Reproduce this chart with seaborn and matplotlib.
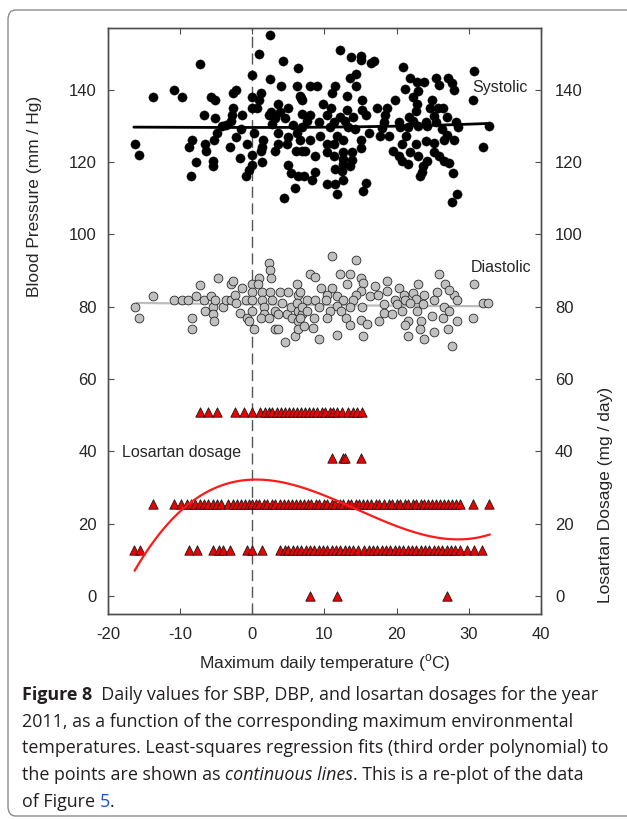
import numpy as np
import pandas as pd
import matplotlib
matplotlib.use("Agg")
import matplotlib.pyplot as plt
import seaborn as sns
from matplotlib.patches import FancyBboxPatch

# ---------------- data ----------------
sys_x = [2.4,1.0,4.3,-7.3,6.4,0.0,2.4,4.0,6.2,-10.9,-9.7,-13.7,-2.3,-2.7,1.2,-5.7,-5.2,-0.1,1.0,3.6,
         5.0,6.8,-2.6,0.0,0.7,2.6,3.8,-6.7,-1.4,-2.8,2.3,-5.1,-3.0,3.1,4.6,-3.7,-4.2,2.7,5.7,-1.6,
         -4.9,0.2,3.5,6.2,-2.3,5.0,-8.4,-5.3,1.5,6.6,-6.6,-0.7,3.6,4.8,-16.3,-8.8,-3.1,1.3,-6.4,1.2,
         3.1,6.0,6.9,-15.7,0.0,-1.7,-7.8,-5.5,1.3,-5.5,0.0,-0.5,5.0,5.4,6.3,-8.5,-0.8,5.9,4.4,
         12.1,13.7,15.0,15.1,16.4,16.9,20.9,30.7,14.4,13.5,21.8,22.8,23.8,25.5,27.1,27.7,28.0,25.8,8.0,8.9,
         11.5,14.3,21.2,23.0,11.0,6.6,6.9,13.1,22.3,15.2,19.8,24.9,30.5,22.8,9.8,10.9,17.3,18.6,24.6,25.7,
         26.4,13.1,15.2,22.7,6.9,8.0,10.3,12.1,14.0,15.8,18.4,21.7,25.1,27.0,7.6,9.2,11.3,12.9,18.2,20.3,
         22.3,24.0,25.5,28.2,32.8,6.9,10.8,13.3,14.2,17.9,20.4,21.6,23.0,24.2,26.3,28.5,9.4,11.8,16.2,17.7,
         18.9,21.3,27.0,8.0,12.6,15.1,24.0,25.1,27.9,26.6,11.3,10.3,20.7,22.7,32.0,15.1,7.3,10.3,12.6,13.8,
         19.5,21.9,25.1,8.7,11.3,20.3,22.9,25.9,12.6,13.8,20.7,21.6,24.2,26.5,12.6,13.6,23.7,27.2,11.5,12.4,
         23.5,7.1,8.7,27.8,8.3,12.6,23.2,10.3,11.5,15.8,15.4,11.8,28.4,27.7]
sys_y = [155.1,149.9,147.9,147,145.9,143.9,143,140.9,140.9,140,138,138,140,139,139,138,137,138,137,135.9,
         134.8,137.6,134.8,134.8,134.8,133.9,133.9,133,133,133,133,132,131.3,132,132,130.2,129.8,130.4,130.2,129.1,
         128,128,128,128,126.9,126.9,126,126,126,126,125,125,125,125,125,124.1,124.1,124.1,123,123,
         123,123,123,121.9,121.9,121,119.9,120.1,119.9,118.9,119.1,117.8,119.1,116.9,116.2,116,116,112.9,109.9,
         151,149,149.2,148.1,147.2,147.9,146.1,145,144.2,143.1,143.1,142.2,142.2,143.1,143.1,141.9,140,141.2,141,141,
         141,141,140.1,139.5,139,138.2,137.2,138.1,138,137.2,137.2,137.2,137.2,136.1,135.9,135,135,135,135,134.8,
         135,134.3,134.3,134.1,133.2,133,133,132.4,132.4,133,133,132.4,132.7,132.4,131.3,131,131,131.3,131,131,
         131.3,131,131,131,130,129.5,129.5,129.5,129.1,129.3,129.5,129.5,129.8,129.8,129,129.5,127.2,127.2,128,127.2,
         127.2,127.2,127.5,126.1,126.1,126.1,125.8,125.2,126,126,124.9,124.9,124.9,124.9,124.1,123.9,123,122.8,122.8,122.8,
         123,122.8,122.8,121.7,121.7,121.7,121.7,121.7,120.8,120.4,120.3,119.5,120.3,120.3,119.3,118.9,118.8,119.8,118,117.5,
         117.3,116.1,117.3,116.9,115,115.1,116,114,114,114.2,112,111.2,111,109]

dia_x = [-16.3,-15.7,-13.7,-10.8,-9.7,-8.9,-7.8,-7.3,-8.4,-8.4,-6.7,-6.6,-5.7,-5.4,-5.5,-5.3,-4.8,-5.1,-4.0,-3.6,
         -2.9,-2.6,-3.0,-2.4,-2.3,-1.7,-1.4,-0.9,-0.7,-0.4,0.0,0.0,0.0,0.0,0.2,1.0,0.8,1.3,1.3,1.6,
         1.6,1.2,2.3,2.5,2.6,2.3,2.5,2.7,3.1,3.6,3.2,3.9,3.6,4.1,4.5,5.0,4.8,5.3,5.5,5.9,
         6.2,6.3,6.2,6.4,6.3,6.3,6.9,
         11.1,14.3,8.0,8.7,12.1,13.5,25.8,30.7,15.0,17.0,18.6,15.4,9.5,11.0,13.1,15.1,20.3,23.0,26.7,18.6,
         6.6,10.4,11.7,14.3,16.3,17.4,21.0,22.3,23.8,25.6,28.0,27.2,7.6,8.7,10.2,12.6,14.0,19.7,21.2,22.7,
         25.1,28.4,6.9,9.2,11.7,13.6,15.2,18.2,20.0,21.9,23.7,26.5,31.9,32.7,7.6,10.8,12.3,18.3,20.7,22.8,
         24.9,27.3,6.6,8.6,10.3,13.0,15.1,15.9,17.6,19.3,21.6,23.3,26.4,28.3,30.5,8.4,11.8,13.6,15.4,21.2,
         23.2,25.1,27.1,9.2,21.6,23.8,27.7,7.2]
dia_y = [79.9,76.9,83,81.9,81.9,81.9,83,86,76.9,73.9,81.9,78.9,83,80,78,76,88,81.9,79.9,81.9,
         86.1,87.1,81.9,83.2,81,78.2,85,81.9,76.9,76,86.1,84.1,81.9,78.9,73.9,88,86.1,84.1,81.9,79.9,
         78,76.9,92,90,88,76.9,84.1,81.9,73.9,73.9,78.9,84.1,78,81,70.3,84.1,78,80,76.9,71.9,
         86.1,83.2,81,78.9,76,73.9,78,
         94.1,92.9,89.1,88.2,89.1,89.1,89.1,86.1,88,85.6,87.1,86.5,85,85,86.1,84.3,85,86.1,86.1,84.3,
         83.9,83.2,82.8,83.2,83,83.2,83.2,83.7,83.2,83.9,83.2,84.6,81.9,81.9,81.9,81.9,81.9,81.9,81.7,82.1,
         81.9,81.9,80,79.9,80.2,80,80,80.8,80.8,81,80.8,80,81,81,78.9,78.8,78.8,78.2,78.9,78.8,
         77.5,78.8,76.9,76.9,76.9,76.9,76.2,75.1,76,77.8,76,76,76.7,76,76.9,74.1,72.1,74.9,71.9,74.9,
         73.9,73,73.9,71,71.9,71,69,74.7]

# Losartan dosage levels and the temperatures at which each level was taken
dose_levels = [50.8, 38.1, 25.4, 12.7, 0.0]
dose50_x = [-7.2,-6.1,-4.9,-2.4,-1.2,0.0,1.1,1.7,2.3,2.8,3.4,4.0,4.5,5.1,5.6,6.2,6.8,7.3,7.9,8.4,
            9.0,9.6,10.1,10.7,11.2,11.8,12.4,13.3,13.9,14.5,15.2]
dose38_x = [11.0,12.5,12.8,15.1]
dose25_x = [-13.8,-10.9,-9.8,-9.1,-8.5,-7.9,-7.3,-6.7,-6.1,-5.5,-4.9,-4.3,-3.3,-2.7,-2.1,-1.6,-1.0,-0.5,0.0,0.5,
            1.0,1.6,2.1,2.7,3.2,3.8,4.4,4.9,5.5,6.0,6.6,7.1,7.7,8.2,8.8,9.3,9.9,10.4,11.0,11.5,
            12.1,12.6,13.2,13.7,14.3,14.8,15.4,15.9,16.5,17.1,17.6,18.3,18.9,19.4,20.0,20.5,21.1,21.6,22.2,22.7,
            23.3,23.8,24.4,24.9,25.5,26.0,26.6,27.1,27.7,28.2,28.8,30.6,32.8]
dose12_x = [-16.4,-15.6,-8.7,-7.7,-5.4,-4.6,-4.0,-3.1,-0.7,0.0,1.3,3.9,4.5,5.0,5.6,6.2,6.8,7.4,8.0,8.6,
            9.2,9.8,10.4,11.0,11.6,12.2,12.8,13.4,14.0,14.6,15.5,16.1,16.7,17.3,17.9,18.5,19.1,19.7,20.3,20.9,
            21.5,22.1,22.7,23.3,23.9,24.5,25.1,25.7,26.3,26.9,27.5,28.1,28.7,29.8,30.7,31.8]
dose0_x = [8.0,11.8,27.0]

# Regression curves (sampled from the reference's fitted lines)
sys_fit_x = [-16.4, 0.0, 15.0, 25.0, 32.5]
sys_fit_y = [129.6, 129.5, 129.7, 130.1, 130.6]
dia_fit_x = [-16.0, 0.0, 15.0, 32.0]
dia_fit_y = [81.0, 80.6, 80.3, 80.1]
los_fit_x = [-16.3, -13.7, -10.4, -7.2, -2.6, 0.65, 4.8, 9.4, 11.3, 15.9, 20.5, 25.1, 28.8, 32.9]
los_fit_y = [6.4, 14.6, 23.8, 28.4, 31.2, 31.7, 30.7, 27.9, 26.6, 22.9, 19.2, 16.6, 15.8, 16.6]

x_ticks = [-20, -10, 0, 10, 20, 30, 40]
y_ticks = [0, 20, 40, 60, 80, 100, 120, 140]

assert len(sys_x) == len(sys_y), (len(sys_x), len(sys_y))
assert len(dia_x) == len(dia_y), (len(dia_x), len(dia_y))

# ---------------- tables ----------------
sys_df = pd.DataFrame({"temp": sys_x, "bp": sys_y})
dia_df = pd.DataFrame({"temp": dia_x, "bp": dia_y})
dose_df = pd.concat([
    pd.DataFrame({"temp": xs, "dose": [lvl] * len(xs)})
    for lvl, xs in zip(dose_levels, [dose50_x, dose38_x, dose25_x, dose12_x, dose0_x])
], ignore_index=True)

def cubic_curve(xs, ys):
    c = np.polyfit(xs, ys, 3)
    xx = np.linspace(min(xs), max(xs), 200)
    return pd.DataFrame({"temp": xx, "val": np.polyval(c, xx)})

sys_fit = cubic_curve(sys_fit_x, sys_fit_y)
dia_fit = cubic_curve(dia_fit_x, dia_fit_y)
los_fit = cubic_curve(los_fit_x, los_fit_y)

# ---------------- figure ----------------
sns.set_theme(style="white")
plt.rcParams["font.family"] = ["Liberation Sans", "DejaVu Sans"]
plt.rcParams["mathtext.fontset"] = "custom"
plt.rcParams["mathtext.rm"] = "Liberation Sans"

fig = plt.figure(figsize=(6.27, 8.19), dpi=100)
ax = fig.add_axes([0.172, 0.2503, 0.691, 0.7155])
ax2 = ax.twinx()

ylim = (-5, 157)
xlim = (-20, 40)

# dashed line at 0 C
ax.axvline(0, color="#555555", lw=1.0, ls=(0, (8, 4)), zorder=1)

sns.lineplot(data=sys_fit, x="temp", y="val", ax=ax, color="black", lw=2.0, zorder=2)
sns.scatterplot(data=sys_df, x="temp", y="bp", ax=ax, color="black", s=44,
                edgecolor="black", linewidth=0.3, zorder=3)
sns.lineplot(data=dia_fit, x="temp", y="val", ax=ax, color="#bdbdbd", lw=1.6, zorder=2)
sns.scatterplot(data=dia_df, x="temp", y="bp", ax=ax, color="#c0c0c0", s=40,
                edgecolor="#2a2a2a", linewidth=0.6, zorder=3)

sns.scatterplot(data=dose_df, x="temp", y="dose", ax=ax2, marker="^", color="#ee0000",
                s=46, edgecolor="#1a1a1a", linewidth=0.6, zorder=3)
sns.lineplot(data=los_fit, x="temp", y="val", ax=ax2, color="#ff1a1a", lw=1.6, zorder=4)

for a in (ax, ax2):
    a.set_xlim(*xlim)
    a.set_ylim(*ylim)
    a.set_yticks(y_ticks)
    for s in a.spines.values():
        s.set_color("#4d4d4d")
        s.set_linewidth(1.0)
        s.set_visible(True)

ax.set_xticks(x_ticks)
ax.set_xticklabels([str(v) for v in x_ticks])
ax.tick_params(axis="both", direction="in", length=4, width=0.8, color="#4d4d4d",
               labelsize=12, top=True, bottom=True, left=True, right=False, pad=8)
ax.tick_params(axis="x", pad=9)
ax2.tick_params(axis="y", direction="in", length=4, width=0.8, color="#4d4d4d",
                labelsize=12, right=True, left=False, pad=10)
ax2.set_yticks(y_ticks)
ax2.set_yticklabels([str(v) for v in y_ticks])

ax.set_xlabel(r"Maximum daily temperature ($^{\mathregular{o}}$C)", fontsize=12.5)
ax.set_ylabel("Blood Pressure (mm / Hg)", fontsize=12.5)
ax2.set_ylabel("Losartan Dosage (mg / day)", fontsize=12.5)
ax.yaxis.set_label_coords(-0.152, 0.712)
ax2.yaxis.set_label_coords(1.132, 0.203)
ax.xaxis.set_label_coords(0.5, -0.066)

ax.text(30.5, 140.5, "Systolic", fontsize=11.5, va="center", ha="left")
ax.text(30.2, 90.8, "Diastolic", fontsize=11.5, va="center", ha="left")
ax.text(-18.0, 39.6, "Losartan dosage", fontsize=11.5, va="center", ha="left")

# ---------------- caption ----------------
cap_font = ["Open Sans", "DejaVu Sans"]
cap_color = "#231f20"
renderer = fig.canvas.get_renderer()

def place_line(segments, x0, y):
    x = x0
    for txt, kw in segments:
        t = fig.text(x, y, txt, fontsize=12.9, family=cap_font, color=kw.get("color", cap_color),
                     fontweight=kw.get("weight", "normal"), fontstyle=kw.get("style", "normal"),
                     va="baseline", ha="left")
        bb = t.get_window_extent(renderer=renderer)
        x += bb.width / fig.bbox.width

x0 = 22 / 627
base = 1 - 700 / 819
step = 26.7 / 819
lines = [
    [("Figure 8", {"weight": "bold"}), ("  Daily values for SBP, DBP, and losartan dosages for the year", {})],
    [("2011, as a function of the corresponding maximum environmental", {})],
    [("temperatures. Least-squares regression fits (third order polynomial) to", {})],
    [("the points are shown as ", {}), ("continuous lines", {"style": "italic"}),
     (". This is a re-plot of the data", {})],
    [("of Figure ", {}), ("5", {"color": "#1a4fd6"}), (".", {})],
]
for i, segs in enumerate(lines):
    place_line(segs, x0, base - i * step)

# frame around the figure (top and left edges visible)
frame = FancyBboxPatch((8 / 627, 3 / 819), 1.2, (809 - 3) / 819,
                       boxstyle="round,pad=0,rounding_size=0.012",
                       transform=fig.transFigure, fill=False, edgecolor="#8c8c8c",
                       linewidth=1.0, clip_on=False)
fig.patches.append(frame)

fig.savefig("out.png", dpi=100)
